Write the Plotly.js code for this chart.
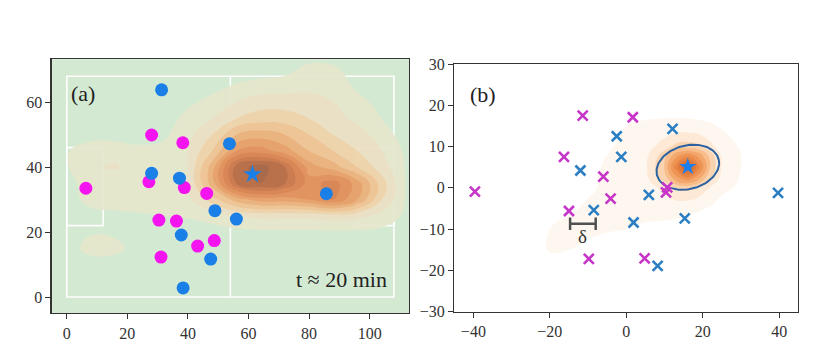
<!DOCTYPE html>
<html><head><meta charset="utf-8">
<script src="https://cdn.plot.ly/plotly-3.0.1.min.js"></script>
<style>html,body{margin:0;padding:0;background:#fff}#chart{width:824px;height:359px}</style>
</head><body><div id="chart"></div>
<script>
// ---------- Panel (a): player positions on the pitch ----------
const aBlueX = [31.3, 53.7, 28.0, 37.2, 85.7, 48.9, 56.0, 37.8, 47.5, 38.4];
const aBlueY = [63.8, 47.2, 38.1, 36.6, 31.8, 26.6, 24.0, 19.1, 11.7, 2.8];
const aStarX = [61.3];
const aStarY = [37.8];
const aMagX = [28.0, 38.3, 6.3, 27.1, 38.8, 46.2, 30.4, 36.2, 43.2, 48.7, 31.1];
const aMagY = [49.9, 47.5, 33.5, 35.5, 33.7, 31.9, 23.7, 23.4, 15.7, 17.4, 12.3];
// density (a) on a coarse grid
const aDensX = [0, 8, 16, 24, 32, 40, 48, 56, 64, 72, 80, 88, 96, 104, 112];
const aDensY = [0, 5, 10, 15, 20, 25, 30, 35, 40, 45, 50, 55, 60, 65, 70, 75];
const aDensZ = [
  [0,0,0,0,0,0,0,0,0,0,0,0,0,0,0],
  [0,0,0,0,0,0,0,0,0,0,0,0,0,0,0],
  [0,0,0,0,0,0,0,0,0,0,0,0,0,0,0],
  [0,0.9,0.8,0,0,0,0,0,0,0,0,0,0,0,0],
  [0,0.4,0.3,0,0,0,0,0.2,0.3,0.3,0.3,0.3,0.3,0.2,0],
  [0,0.2,0.3,0.4,0.5,0.6,1.0,1.5,1.8,1.8,1.8,2.0,1.8,1.2,0.3],
  [0.1,0.8,0.9,0.9,1.0,1.2,3.0,5.0,6.0,6.0,6.5,7.5,5.5,2.5,0.4],
  [0.2,0.9,0.9,0.8,1.0,1.5,5.0,9.5,10.6,9.5,7.0,8.0,6.0,3.0,0.4],
  [0.4,1.4,1.6,1.0,1.0,1.5,5.0,10.0,11.0,9.5,6.0,5.0,3.5,2.0,0.4],
  [0.4,1.2,1.2,0.8,0.8,1.5,3.5,6.5,7.0,6.0,4.5,3.5,2.5,1.5,0.3],
  [0,0,0,0,0.3,1.2,2.5,4.5,5.0,4.5,3.5,2.5,2.0,1.0,0],
  [0,0,0,0,0,0.8,1.5,2.5,3.0,3.0,2.5,2.0,1.2,0.5,0],
  [0,0,0,0,0,0.3,0.8,1.5,2.0,2.0,1.8,1.5,0.8,0.2,0],
  [0,0,0,0,0,0,0.2,0.6,0.9,1.0,1.3,1.1,0.3,0,0],
  [0,0,0,0,0,0,0,0,0,0.2,0.8,0.7,0,0,0],
  [0,0,0,0,0,0,0,0,0,0,0,0,0,0,0]
];
// pitch geometry (a)
const pitchLength = 108, pitchWidth = 68, boxDepth = 12, boxLow = 22, boxHigh = 46;

// ---------- Panel (b): relative positions ----------
const bBlueX = [12.1, -2.5, -1.3, -12.0, 5.9, 39.7, -8.5, 15.3, 1.9, 8.2];
const bBlueY = [14.3, 12.5, 7.5, 4.2, -1.7, -1.2, -5.4, -7.4, -8.4, -18.9];
const bStarX = [16.1];
const bStarY = [5.1];
const bMagX = [-39.6, -11.4, 1.7, -16.3, -6.0, -4.1, -15.0, -9.8, 4.8, 10.7, 10.4];
const bMagY = [-0.9, 17.5, 17.1, 7.5, 2.7, -2.6, -5.6, -17.2, -17.1, 0.1, -1.1];
const bDensX = [-25, -20, -15, -10, -5, 0, 5, 10, 13, 16, 19, 22, 25, 30, 35];
const bDensY = [-20, -15, -10, -5, 0, 2, 5, 8, 10, 15, 20];
const bDensZ = [
  [0,0,0,0,0,0,0,0,0,0,0,0,0,0,0],
  [0,0.6,0.5,0.3,0,0,0,0,0,0,0,0,0,0,0],
  [0,0.5,0.7,0.7,0.6,0.5,0.4,0.3,0.2,0,0,0,0,0,0],
  [0,0,0.4,0.6,0.7,0.7,0.7,0.8,0.8,0.7,0.6,0.4,0,0,0],
  [0,0,0,0.4,0.6,0.7,1.0,1.8,2.6,2.8,2.2,1.4,0.8,0.3,0],
  [0,0,0,0.4,0.6,0.7,1.2,2.8,4.8,5.8,4.4,2.4,1.1,0.4,0],
  [0,0,0,0.3,0.6,0.8,1.3,3.6,7.0,10,6.8,3.4,1.4,0.5,0],
  [0,0,0,0.2,0.5,0.8,1.2,3.0,5.0,6.0,5.0,3.0,1.3,0.5,0],
  [0,0,0,0,0.4,0.7,1.0,2.0,2.8,3.0,2.7,1.8,1.0,0.4,0],
  [0,0,0,0,0,0.5,0.7,0.8,0.8,0.8,0.7,0.6,0.4,0,0],
  [0,0,0,0,0,0,0,0,0,0,0,0,0,0,0]
];
// confidence ellipse (b): centre, semi-axes, rotation (deg)
const ellCenter = [16.1, 5.0];
const ellAxes = [8.3, 5.3];
const ellAngle = [12];
// delta scale bar
const deltaX = [-14.7, -8.0];
const deltaY = [-8.7, -8.7];

// ---------- build ----------
const serif = "Liberation Serif, Times New Roman, serif";
const aColors = ['rgba(255,255,255,0)','#e6e6cd','#ecdfc4','#f0d2aa','#efc292','#ecaf79',
                 '#e89d65','#e28c55','#da7e4b','#cb7246','#b76740','#a55f3f'];
const aScale = aColors.map((c, i) => [i / (aColors.length - 1), c]);
const bColors = ['rgba(255,255,255,0)','#fef7f0','#fde9d6','#fad3b0','#f7bd8a','#f3a76c',
                 '#ee9555','#e88545','#e0783a','#d66c31','#c96530'];
const bScale = bColors.map((c, i) => [i / (bColors.length - 1), c]);

const ellX = [], ellY = [];
{
  const th = ellAngle[0] * Math.PI / 180;
  for (let k = 0; k <= 120; k++) {
    const t = 2 * Math.PI * k / 120;
    const ex = ellAxes[0] * Math.cos(t), ey = ellAxes[1] * Math.sin(t);
    ellX.push(ellCenter[0] + ex * Math.cos(th) - ey * Math.sin(th));
    ellY.push(ellCenter[1] + ex * Math.sin(th) + ey * Math.cos(th));
  }
}

const traces = [
  {type:'contour', x:aDensX, y:aDensY, z:aDensZ, xaxis:'x', yaxis:'y',
   autocontour:false, contours:{start:0.5, end:10.5, size:1, coloring:'fill', showlines:false},
   line:{width:0, smoothing:1.3}, colorscale:aScale, showscale:false, opacity:0.92, hoverinfo:'skip'},
  {type:'scatter', mode:'markers', x:aMagX, y:aMagY, xaxis:'x', yaxis:'y',
   marker:{color:'#f414ef', size:13}},
  {type:'scatter', mode:'markers', x:aBlueX, y:aBlueY, xaxis:'x', yaxis:'y',
   marker:{color:'#1a7fe6', size:13}},
  {type:'scatter', mode:'markers', x:aStarX, y:aStarY, xaxis:'x', yaxis:'y',
   marker:{color:'#1a7fe6', size:14, symbol:'star'}},

  {type:'contour', x:bDensX, y:bDensY, z:bDensZ, xaxis:'x2', yaxis:'y2',
   autocontour:false, contours:{start:0.5, end:9.5, size:1, coloring:'fill', showlines:false},
   line:{width:0, smoothing:1.3}, colorscale:bScale, showscale:false, hoverinfo:'skip'},
  {type:'scatter', mode:'lines', x:ellX, y:ellY, xaxis:'x2', yaxis:'y2',
   line:{color:'#2c62a0', width:2}},
  {type:'scatter', mode:'markers', x:bMagX, y:bMagY, xaxis:'x2', yaxis:'y2',
   marker:{symbol:'x-thin-open', size:10, color:'#c635c8', line:{color:'#c635c8', width:2.6}}},
  {type:'scatter', mode:'markers', x:bBlueX, y:bBlueY, xaxis:'x2', yaxis:'y2',
   marker:{symbol:'x-thin-open', size:10, color:'#2b7fc2', line:{color:'#2b7fc2', width:2.6}}},
  {type:'scatter', mode:'markers', x:bStarX, y:bStarY, xaxis:'x2', yaxis:'y2',
   marker:{color:'#1a80f0', size:13, symbol:'star'}},
  {type:'scatter', mode:'lines+markers', x:deltaX, y:deltaY, xaxis:'x2', yaxis:'y2',
   line:{color:'#505050', width:2.5},
   marker:{symbol:'line-ns-open', size:9, color:'#505050', line:{color:'#505050', width:2.5}}}
];

const axBase = {showgrid:false, zeroline:false, showline:true, mirror:true,
  linecolor:'#333', linewidth:1.2, ticks:'outside', ticklen:5, tickwidth:1, tickcolor:'#333',
  tickfont:{family:serif, size:16, color:'#333'}, fixedrange:true};

const white = {color:'rgba(255,255,255,0.95)', width:1.6};
const shapes = [
  {type:'rect', xref:'x domain', yref:'y domain', x0:0, x1:1, y0:0, y1:1,
   fillcolor:'#d4e9d2', line:{width:0}, layer:'below'},
  {type:'rect', xref:'x', yref:'y', x0:0, x1:pitchLength, y0:0, y1:pitchWidth, line:white, layer:'below'},
  {type:'line', xref:'x', yref:'y', x0:pitchLength/2, x1:pitchLength/2, y0:0, y1:pitchWidth, line:white, layer:'below'},
  {type:'rect', xref:'x', yref:'y', x0:0, x1:boxDepth, y0:boxLow, y1:boxHigh, line:white, layer:'below'},
  {type:'rect', xref:'x', yref:'y', x0:pitchLength-boxDepth, x1:pitchLength, y0:boxLow, y1:boxHigh, line:white, layer:'below'}
];

const layout = {
  width:824, height:359, margin:{l:0, r:0, t:0, b:0},
  paper_bgcolor:'#ffffff', plot_bgcolor:'#ffffff', showlegend:false,
  xaxis:Object.assign({}, axBase, {domain:[0.0627, 0.4964], range:[-5, 113], tickvals:[0,20,40,60,80,100], anchor:'y'}),
  yaxis:Object.assign({}, axBase, {domain:[0.1273, 0.8348], range:[-5, 73.2], tickvals:[0,20,40,60], anchor:'x'}),
  xaxis2:Object.assign({}, axBase, {domain:[0.5513, 0.9688], range:[-45, 45], tickvals:[-40,-20,0,20,40], anchor:'y2'}),
  yaxis2:Object.assign({}, axBase, {domain:[0.1318, 0.8217], range:[-30, 30], tickvals:[-30,-20,-10,0,10,20,30], anchor:'x2'}),
  shapes:shapes,
  annotations:[
    {xref:'x', yref:'y', x:0.6, y:67, text:'(a)', showarrow:false, xanchor:'left', yanchor:'top',
     font:{family:serif, size:22, color:'#222'}},
    {xref:'x', yref:'y', x:106.5, y:0.8, text:'t \u2248 20 min', showarrow:false, xanchor:'right', yanchor:'bottom',
     font:{family:serif, size:22, color:'#222'}},
    {xref:'x2', yref:'y2', x:-41.3, y:26.2, text:'(b)', showarrow:false, xanchor:'left', yanchor:'top',
     font:{family:serif, size:22, color:'#222'}},
    {xref:'x2', yref:'y2', x:-11.4, y:-11.8, text:'\u03b4', showarrow:false, xanchor:'center', yanchor:'middle',
     font:{family:serif, size:19, color:'#333'}}
  ]
};

Plotly.newPlot('chart', traces, layout, {displayModeBar:false, staticPlot:true});
</script></body></html>
